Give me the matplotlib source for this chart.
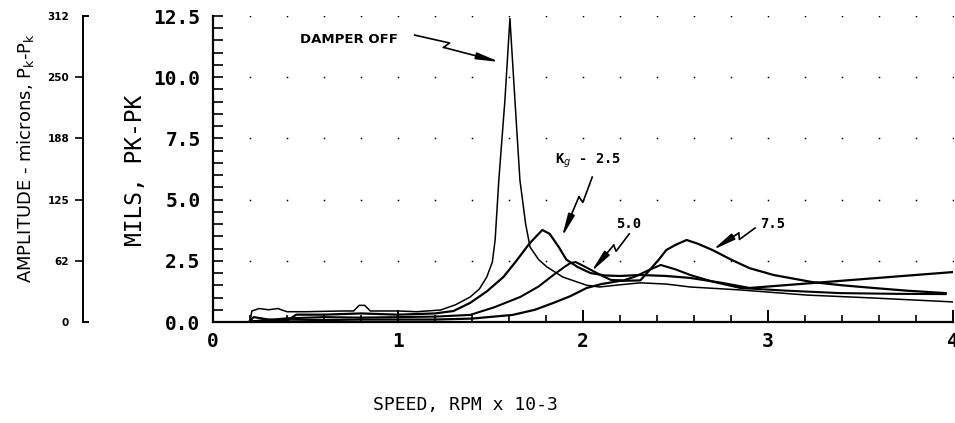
import matplotlib
matplotlib.use("Agg")
import matplotlib.pyplot as plt
import numpy as np

# damper off
speed_off = [0.20, 0.21, 0.25, 0.30, 0.35, 0.40, 0.50, 0.70, 0.76, 0.79, 0.82, 0.85, 1.00, 1.10,
             1.23, 1.31, 1.39, 1.44, 1.48, 1.51, 1.525, 1.545, 1.578, 1.605, 1.632, 1.659, 1.69,
             1.714, 1.76, 1.805, 1.89, 2.02, 2.09, 2.20, 2.31, 2.45, 2.58, 2.85, 3.21, 3.57, 4.00]
amp_off = [0.00, 0.45, 0.55, 0.50, 0.55, 0.42, 0.42, 0.45, 0.45, 0.68, 0.68, 0.45, 0.45, 0.42,
           0.49, 0.70, 1.02, 1.35, 1.84, 2.45, 3.35, 5.80, 9.07, 12.40, 9.07, 5.80, 4.00,
           3.06, 2.55, 2.25, 1.84, 1.50, 1.43, 1.52, 1.60, 1.55, 1.43, 1.31, 1.10, 0.98, 0.82]

# Kg = 2.5
speed_25 = [0.20, 0.22, 0.30, 0.40, 0.45, 0.60, 0.80, 1.00, 1.20, 1.30, 1.39, 1.48, 1.57, 1.64,
            1.71, 1.78, 1.82, 1.87, 1.91, 1.97, 2.04, 2.12, 2.20, 2.31, 2.45, 2.58, 2.75, 2.90, 4.00]
amp_25 = [0.05, 0.20, 0.10, 0.05, 0.30, 0.30, 0.35, 0.30, 0.35, 0.45, 0.78, 1.25, 1.84, 2.50,
          3.20, 3.76, 3.60, 3.05, 2.55, 2.25, 2.00, 1.90, 1.88, 1.92, 1.88, 1.80, 1.60, 1.39, 2.04]

# Kg = 5.0
speed_50 = [0.20, 0.40, 0.60, 0.80, 1.00, 1.20, 1.39, 1.52, 1.66, 1.76, 1.84, 1.90, 1.93, 1.96,
            2.00, 2.05, 2.10, 2.15, 2.22, 2.28, 2.35, 2.42, 2.50, 2.58, 2.70, 2.85, 3.10, 3.39,
            3.70, 3.96]
amp_50 = [0.02, 0.15, 0.20, 0.18, 0.20, 0.22, 0.29, 0.60, 1.02, 1.45, 1.92, 2.25, 2.40, 2.45,
          2.30, 2.10, 1.90, 1.72, 1.70, 1.85, 2.10, 2.33, 2.15, 1.92, 1.65, 1.39, 1.28, 1.18,
          1.15, 1.14]

# Kg = 7.5
speed_75 = [0.20, 0.40, 0.60, 0.80, 1.00, 1.20, 1.40, 1.62, 1.74, 1.84, 1.93, 2.02, 2.10, 2.20,
            2.31, 2.36, 2.41, 2.45, 2.50, 2.56, 2.62, 2.70, 2.80, 2.90, 3.03, 3.24, 3.40, 3.57,
            3.75, 3.96]
amp_75 = [0.02, 0.10, 0.08, 0.10, 0.10, 0.10, 0.14, 0.29, 0.50, 0.78, 1.05, 1.39, 1.55, 1.68,
          1.70, 2.12, 2.55, 2.94, 3.15, 3.35, 3.20, 2.94, 2.55, 2.20, 1.92, 1.63, 1.50, 1.39,
          1.28, 1.18]

mils_ticks = [0.0, 2.5, 5.0, 7.5, 10.0, 12.5]
mils_labels = ["0.0", "2.5", "5.0", "7.5", "10.0", "12.5"]
micron_labels = ["0", "62", "125", "188", "250", "312"]
speed_ticks = [0, 1, 2, 3, 4]

MONO = "DejaVu Sans Mono"

fig = plt.figure(figsize=(9.55, 4.23), dpi=100)
W, H = 955.0, 423.0
bot = 1 - 322 / H
hgt = (322 - 16) / H
ax = fig.add_axes([213 / W, bot, (953 - 213) / W, hgt])

ax.set_xlim(0, 4)
ax.set_ylim(0, 12.5)
for s in ["top", "right"]:
    ax.spines[s].set_visible(False)
for s in ["left", "bottom"]:
    ax.spines[s].set_linewidth(1.6)

ax.set_xticks(speed_ticks)
ax.set_xticklabels([str(t) for t in speed_ticks], fontfamily=MONO, fontsize=14, fontweight="bold")
ax.set_xticks(np.arange(0, 4.01, 0.2), minor=True)
ax.set_yticks(mils_ticks)
ax.set_yticklabels(mils_labels, fontfamily=MONO, fontsize=14, fontweight="bold")
ax.set_yticks(np.arange(0, 12.51, 0.5), minor=True)
ax.tick_params(axis="x", which="major", direction="in", length=9, width=1.4, pad=7)
ax.tick_params(axis="x", which="minor", direction="in", length=5, width=1.2)
ax.tick_params(axis="y", which="major", direction="in", length=7, width=1.2, pad=9)
ax.tick_params(axis="y", which="minor", direction="in", length=7, width=1.2)

# dotted grid
gx, gy = np.meshgrid(np.arange(0.2, 4.01, 0.2), mils_ticks[1:])
ax.plot(gx.ravel(), gy.ravel(), ls="none", marker="s", ms=1.1, mew=0, color="k", zorder=1)

ax.plot(speed_off, amp_off, color="k", lw=1.1, zorder=3)
ax.plot(speed_25, amp_25, color="k", lw=1.6, zorder=3)
ax.plot(speed_50, amp_50, color="k", lw=1.5, zorder=3)
ax.plot(speed_75, amp_75, color="k", lw=1.6, zorder=3)


def bolt(start, end):
    # lightning-style leader with an arrow head
    p0 = ax.transData.transform(start)
    p1 = ax.transData.transform(end)
    d = p1 - p0
    L = np.hypot(*d)
    n = np.array([-d[1], d[0]]) / L
    m1 = p0 + 0.40 * d + n * 3.0
    m2 = p0 + 0.35 * d - n * 3.0
    inv = ax.transData.inverted()
    pts = inv.transform(np.array([p0, m1, m2]))
    ax.plot(pts[:, 0], pts[:, 1], color="k", lw=1.2, zorder=4)
    ax.annotate("", xy=end, xytext=tuple(pts[2]),
                arrowprops=dict(arrowstyle="-|>,head_length=1.7,head_width=0.25",
                                mutation_scale=8, color="k", lw=1.2, shrinkA=0, shrinkB=0))


ax.text(0.47, 11.52, "DAMPER OFF", fontsize=9.5, fontweight="bold", va="center", ha="left")
bolt((1.09, 11.72), (1.55, 10.62))
ax.text(1.85, 6.6, r"K$_{g}$ - 2.5", fontfamily=MONO, fontsize=10, fontweight="bold",
        va="center", ha="left")
bolt((2.05, 5.92), (1.886, 3.47))
ax.text(2.18, 4.0, "5.0", fontfamily=MONO, fontsize=10, fontweight="bold", va="center", ha="left")
bolt((2.25, 3.6), (2.043, 2.04))
ax.text(2.96, 4.0, "7.5", fontfamily=MONO, fontsize=10, fontweight="bold", va="center", ha="left")
bolt((2.93, 3.84), (2.70, 2.94))

# secondary micron scale
ax2 = fig.add_axes([83 / W, bot, 5 / W, hgt])
ax2.set_ylim(0, 12.5)
ax2.set_xticks([])
ax2.spines["right"].set_visible(False)
for s in ["left", "top", "bottom"]:
    ax2.spines[s].set_linewidth(1.4)
ax2.set_yticks(mils_ticks)
ax2.set_yticklabels(micron_labels, fontsize=7.5, fontweight="bold")
ax2.tick_params(axis="y", direction="out", length=6, width=1.2, pad=4)
tks = ax2.yaxis.get_major_ticks()
tks[0].tick1line.set_visible(False)
tks[-1].tick1line.set_visible(False)

fig.text(25 / W, 1 - 158 / H, r"AMPLITUDE - microns, P$_{\mathrm{k}}$-P$_{\mathrm{k}}$",
         rotation=90, fontsize=13, ha="center", va="center")
fig.text(135 / W, 1 - 170 / H, "MILS, PK-PK", rotation=90, fontfamily=MONO, fontsize=16.5,
         ha="center", va="center")
fig.text(465 / W, 1 - 405 / H, "SPEED, RPM x 10-3", fontfamily=MONO, fontsize=13,
         ha="center", va="center")

fig.savefig("out.png", dpi=100)
